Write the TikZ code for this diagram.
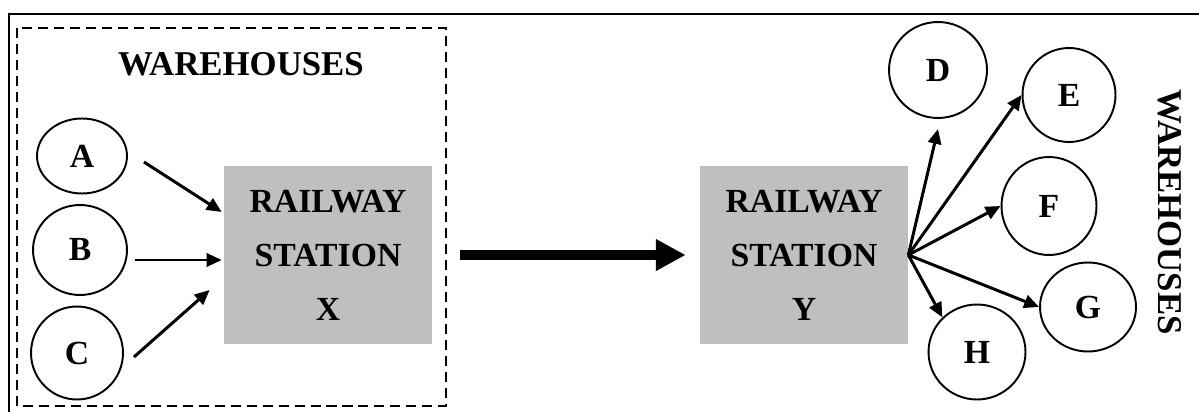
\documentclass[tikz,border=0pt]{standalone}
\usepackage{fontspec}
\setmainfont{Liberation Serif}
\usetikzlibrary{arrows.meta, shapes.geometric, positioning}
\definecolor{StationGray}{RGB}{191,191,191}

\begin{document}
\begin{tikzpicture}[x=0.02cm,y=-0.02cm,
    whnode/.style={draw,ellipse,line width=1.1pt,inner sep=0pt,
                   font=\fontsize{19.2}{22}\selectfont\bfseries},
    station/.style={fill=StationGray,align=center,inner sep=0pt,
                    minimum width=4.16cm,minimum height=3.58cm,
                    font=\fontsize{19.2}{30.7}\selectfont\bfseries},
    title/.style={font=\fontsize{19.8}{22}\selectfont\bfseries},
    arr/.style={-{Triangle[length=8.5pt,width=7.5pt]},line width=1.7pt},
    bigarr/.style={-{Triangle[length=17pt,width=17pt]},line width=5.7pt}
  ]
    \useasboundingbox (0,0) rectangle (1199,412);
    \clip (0,0) rectangle (1199,412);
    \draw[line width=1.4pt] (9,14) rectangle (1215,425);
    \draw[line width=1.4pt,dash pattern=on 5.7pt off 3.4pt] (17,28) rectangle (446,406);
    \node[title] (whleft) at (241,64) {WAREHOUSES};
    \node[whnode,minimum width=1.80cm,minimum height=1.50cm] (A) at (82,156) {A};
    \node[whnode,minimum width=1.88cm,minimum height=1.80cm] (B) at (80,250) {B};
    \node[whnode,minimum width=1.84cm,minimum height=1.86cm] (C) at (77,353) {C};
    \node[station] (stationX) at (328,255) {RAILWAY\\STATION\\X};
    \node[station] (stationY) at (804,255) {RAILWAY\\STATION\\Y};
    \node[whnode,minimum width=1.96cm,minimum height=1.92cm] (D) at (938,70) {D};
    \node[whnode,minimum width=1.86cm,minimum height=1.88cm] (E) at (1069,95) {E};
    \node[whnode,minimum width=1.90cm,minimum height=1.96cm] (F) at (1049,206) {F};
    \node[whnode,minimum width=1.92cm,minimum height=1.78cm] (G) at (1088,307) {G};
    \node[whnode,minimum width=1.94cm,minimum height=1.90cm] (H) at (977,352) {H};
    \node[title,rotate=-90] (whright) at (1170,212) {WAREHOUSES};
    \draw[arr] ([shift={(16,6)}]A.east) -- ([shift={(-2,-43)}]stationX.west);
    \draw[arr] ([shift={(7,10)}]B.east) -- ([shift={(-2,5)}]stationX.west);
    \draw[arr] ([shift={(10,4)}]C.east) -- ([shift={(-14,35)}]stationX.west);
    \draw[bigarr] ([xshift=0.56cm]stationX.east) -- ([xshift=-0.28cm]stationY.west);
    \draw[arr] (stationY.east) -- ([yshift=-0.2cm]D.south);
    \draw[arr] (stationY.east) -- (E.west);
    \draw[arr] (stationY.east) -- (F.west);
    \draw[arr] (stationY.east) -- (G.west);
    \draw[arr] (stationY.east) -- (H.135);
  \end{tikzpicture}
\end{document}
